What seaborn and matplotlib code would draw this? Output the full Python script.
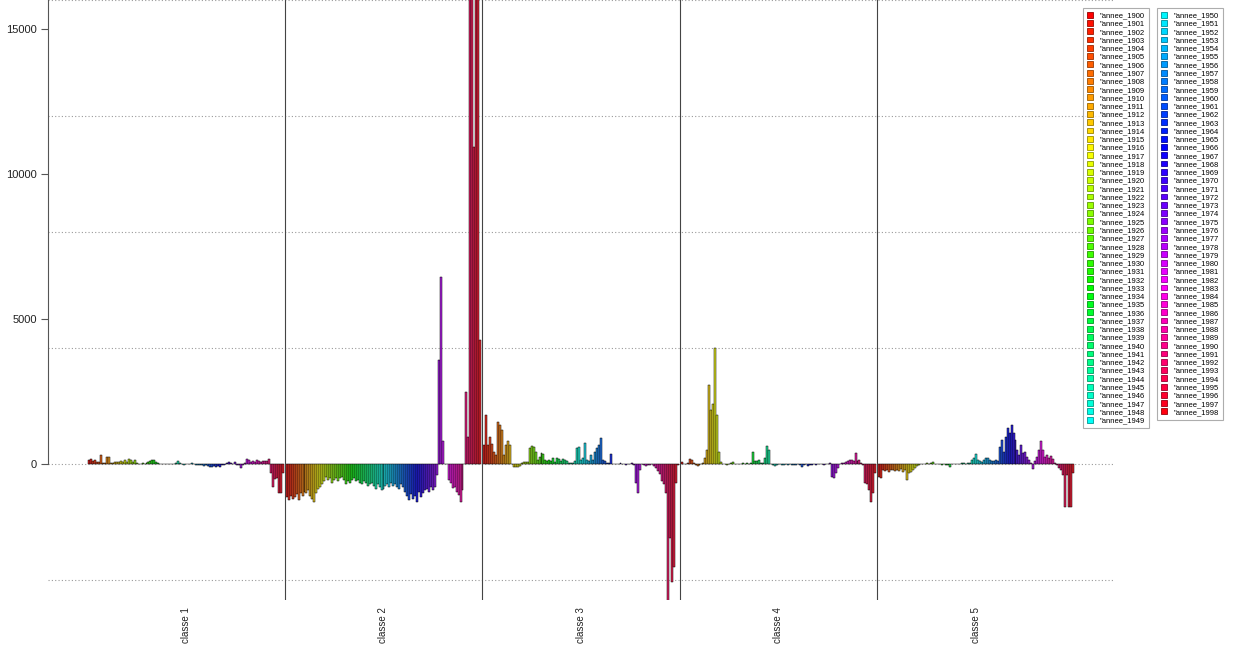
import colorsys
import pandas as pd
import matplotlib
matplotlib.use("Agg")
import matplotlib.pyplot as plt
from matplotlib.patches import Patch
import seaborn as sns

# categories
classes = ["classe 1", "classe 2", "classe 3", "classe 4", "classe 5"]
annees = ['"annee_%d' % y for y in range(1900, 1999)]

# values per class, years 1900..1998 (10 per row)
classe_1 = [140, 160, 115, 140, 80, 80, 310, 45, 30, 230,
            230, 40, 30, 80, 60, 70, 115, 80, 140, 80,
            160, 140, 80, 150, 20, 10, 15, 20, 10, 20,
            80, 115, 140, 140, 80, 20, 10, 5, 10, -10,
            5, 10, 0, -10, 20, 100, 40, 10, -20, 10,
            5, -10, 45, 10, -20, -30, -20, -50, -60, -40,
            -60, -110, -115, -60, -90, -70, -90, -50, -30, 10,
            20, 60, 30, 10, 60, -20, -50, -130, -40, 20,
            160, 140, 60, 110, 60, 140, 110, 60, 90, 120,
            110, 160, -300, -780, -520, -500, -1000, -1000, -300]

classe_2 = [-1150, -1240, -1100, -1200, -1150, -1050, -1250, -1000, -1100, -950,
            -1000, -900, -1100, -1200, -1300, -1000, -850, -800, -700, -600,
            -450, -550, -500, -650, -550, -500, -600, -500, -450, -550,
            -700, -600, -650, -550, -500, -600, -550, -650, -700, -600,
            -650, -750, -700, -650, -750, -850, -700, -800, -900, -850,
            -750, -700, -800, -650, -750, -700, -800, -850, -700, -800,
            -950, -1100, -1250, -1050, -1200, -1100, -1300, -950, -1150, -1000,
            -900, -850, -950, -800, -900, -800, -380, 3600, 6450, 800,
            0, 0, -550, -670, -840, -800, -950, -1070, -1300, -900,
            0, 2490, 940, 19000, 17500, 10940, 18500, 17800, 4280]

classe_3 = [650, 1690, 650, 940, 680, 425, 310, 1440, 1350, 1170,
            310, 650, 800, 650, 0, -90, -120, -100, -80, 30,
            80, 60, 80, 540, 630, 600, 425, 140, 250, 370,
            330, 150, 100, 140, 110, 190, 80, 200, 160, 110,
            180, 130, 100, 30, 40, 20, 110, 550, 600, 150,
            200, 710, 150, 100, 300, 150, 425, 540, 650, 885,
            150, 110, 30, 20, 330, 0, 10, 10, 0, 20,
            10, 0, -20, 10, 0, 20, -50, -670, -990, -200,
            0, -50, -60, -40, -50, 0, -80, -150, -250, -350,
            -600, -700, -1000, -4800, -2560, -4060, -3540, -670, -50]

classe_4 = [80, 10, 0, 30, 160, 130, 20, -50, -60, -30,
            0, 30, 200, 480, 2730, 1860, 2070, 3990, 1690, 425,
            80, 10, 0, -20, 10, 20, 60, 10, 0, 10,
            0, 20, 10, 30, 10, 20, 425, 120, 100, 150,
            50, 30, 200, 620, 480, 0, -30, -80, -30, -10,
            0, -20, -30, -10, -40, 10, -30, -20, -40, -10,
            -30, -115, -40, -10, -60, -20, -30, 10, -20, 0,
            10, 0, -20, 0, 10, 30, -440, -500, -320, -150,
            0, 20, 40, 80, 115, 140, 140, 115, 390, 120,
            140, 50, -35, -670, -700, -900, -1300, -1000, -300]

classe_5 = [-440, -490, -210, -230, -200, -260, -200, -220, -250, -200,
            -230, -180, -260, -200, -550, -320, -260, -200, -150, -60,
            -20, 0, 10, -10, 20, 0, 30, 60, 0, -10,
            0, 10, -20, 0, -30, -30, -90, 10, 0, -10,
            0, 10, 20, 30, 0, 40, 50, 140, 200, 330,
            150, 120, 80, 150, 200, 220, 150, 100, 120, 150,
            100, 600, 830, 425, 940, 1230, 1060, 1350, 1060, 830,
            480, 310, 660, 370, 425, 250, 150, 20, -180, 100,
            250, 480, 800, 480, 250, 310, 200, 270, 180, 50,
            -50, -150, -210, -380, -1470, -380, -1470, -1470, -320]

# R rainbow(99)
couleurs = [colorsys.hsv_to_rgb(i / 99, 1, 1) for i in range(99)]

rows = []
for cl, vals in zip(classes, [classe_1, classe_2, classe_3, classe_4, classe_5]):
    for an, v in zip(annees, vals):
        rows.append((cl, an, v))
df = pd.DataFrame(rows, columns=["classe", "annee", "valeur"])

plt.rcParams["font.family"] = ["Liberation Sans", "DejaVu Sans"]

fig = plt.figure(figsize=(12.41, 6.70), dpi=100)
ax = fig.add_axes([48 / 1241, 70 / 670, (1113 - 48) / 1241, 600 / 670])

sns.barplot(data=df, x="classe", y="valeur", hue="annee", order=classes,
            hue_order=annees, palette=couleurs, width=0.99, errorbar=None,
            edgecolor="black", linewidth=0.35, legend=False, ax=ax)

# dotted grid
for yv in [-4000, 0, 4000, 8000, 12000, 16000]:
    ax.axhline(yv, color="#9a9a9a", linestyle=(0, (1, 2)), linewidth=0.8, zorder=0)

# class separators
for k in range(4):
    ax.axvline(k + 0.5, color="#444444", linewidth=0.8, zorder=3)

ax.set_xlim((48 - 186) / 197.5, (1113 - 186) / 197.5)
ax.set_ylim(-4690, 16000)

ax.set_xlabel("")
ax.set_ylabel("")
for s in ["top", "right", "bottom"]:
    ax.spines[s].set_visible(False)
ax.spines["left"].set_bounds(0, 16000)
ax.spines["left"].set_color("#555555")
ax.spines["left"].set_linewidth(0.8)

ax.set_yticks([0, 5000, 10000, 15000])
ax.set_yticklabels(["0", "5000", "10000", "15000"])
ax.tick_params(axis="y", labelsize=8, length=5, width=0.8, color="#555555",
               labelcolor="#222222", pad=3)
ax.set_xticks(range(5))
ax.set_xticklabels(classes, rotation=90, fontsize=7, color="#222222")
ax.tick_params(axis="x", length=0, pad=5)

# legend in two boxes
handles = [Patch(facecolor=c, edgecolor=tuple(x * 0.6 for x in c), linewidth=0.6)
           for c in couleurs]
leg_kw = dict(fontsize=5.5, frameon=True, fancybox=False, edgecolor="#999999",
              handlelength=0.8, handleheight=0.8, handletextpad=0.9,
              labelspacing=0.09, borderpad=0.5, borderaxespad=0)
leg1 = fig.legend(handles[:50], annees[:50], loc="upper left",
                  bbox_to_anchor=(1083 / 1241, 1 - 8 / 670), **leg_kw)
leg2 = fig.legend(handles[50:], annees[50:], loc="upper left",
                  bbox_to_anchor=(1157 / 1241, 1 - 8 / 670), **leg_kw)
for lg in (leg1, leg2):
    lg.get_frame().set_linewidth(0.8)

fig.savefig("out.png", dpi=100, facecolor="white")
